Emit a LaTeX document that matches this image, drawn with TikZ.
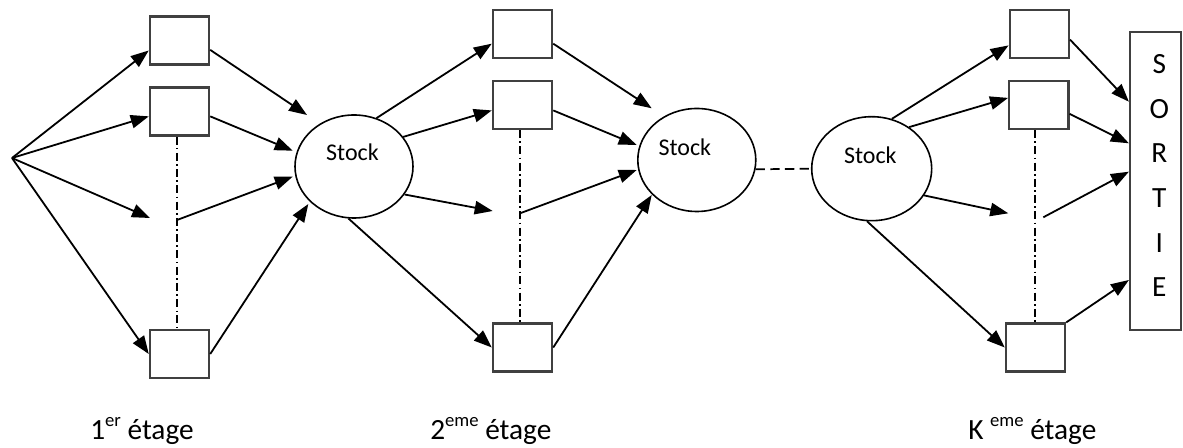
\documentclass[tikz,border=0pt]{standalone}
\usepackage{fontspec}
\setmainfont{Carlito}
\usetikzlibrary{arrows.meta,shapes.geometric}
% raised exponent for the stage numbers
\newcommand\etsup[1]{\raisebox{9.75pt}{\fontsize{14}{14}\selectfont #1}}
\begin{document}
\begin{tikzpicture}[x=0.75pt,y=-0.75pt,
  flow/.style={line width=1.35pt,-{Triangle[length=13.5pt,width=10pt]}},
  stagebox/.style={draw=black!75,line width=1.6pt,minimum width=44.5pt,minimum height=36pt,inner sep=0pt},
  stock/.style={ellipse,draw,line width=1.2pt,minimum width=88.5pt,minimum height=77.25pt,inner sep=0pt},
  stocktxt/.style={font=\fontsize{18}{18}\selectfont,inner sep=0pt},
  elide/.style={line width=1pt,dash pattern=on 6pt off 2.5pt on 1.2pt off 2.5pt},
  link/.style={line width=1.3pt,dash pattern=on 7pt off 4pt},
  etage/.style={anchor=base west,font=\fontsize{22}{22}\selectfont,inner sep=0pt}]

\useasboundingbox (0,0) rectangle (1183,448);

% ---------- stage 1 ----------
\coordinate (src) at (12,158);
\node[stagebox] (a1) at (179.5,40.5) {};
\node[stagebox] (a2) at (179.5,111.5) {};
\node[stagebox] (a3) at (179.5,354) {};
\coordinate (a0in) at (150,218);
\coordinate (a0out) at (177,220);
\draw[elide] (a2.south -| a0out) -- (a3.north -| a0out);

\node[stock] (s1) at (354,166.5) {};
\node[stocktxt] (t1) at ([shift={(-1.5,-14)}]s1.center) {Stock};

\draw[flow] (src) -- (a1.198);
\draw[flow] (src) -- (a2.189);
\draw[flow] (src) -- (a0in);
\draw[flow] (src) -- (a3.west);

\draw[flow] (a1.-17) -- ([shift={(-47,-51.5)}]s1.center);
\draw[flow] (a2.-9) -- ([shift={(-61.3,-15.8)}]s1.center);
\draw[flow] (a0out) -- ([shift={(-61.3,10.2)}]s1.center);
\draw[flow] (a3.east) -- ([shift={(-45.7,37.5)}]s1.center);

% ---------- stage 2 ----------
\node[stagebox] (b1) at (522.5,33.7) {};
\node[stagebox] (b2) at (522.5,105) {};
\node[stagebox] (b3) at (522.5,347.5) {};
\coordinate (b0in) at (492.7,211);
\coordinate (b0out) at (520,213.3);
\draw[elide] (b2.south -| b0out) -- (b3.north -| b0out);

\node[stock] (s2) at (696.8,160) {};
\node[stocktxt] (t2) at ([shift={(-12,-13)}]s2.center) {Stock};

\draw[flow] (s1.65) -- (b1.198);
\draw[flow] (s1.31) -- (b2.190);
\draw[flow] (s1.-29) -- (b0in);
\draw[flow] (s1.-96) -- (b3.west);

\draw[flow] (b1.-18) -- ([shift={(-45.1,-51.7)}]s2.center);
\draw[flow] (b2.-10) -- ([shift={(-60.1,-15)}]s2.center);
\draw[flow] (b0out) -- ([shift={(-60.1,10)}]s2.center);
\draw[flow] (b3.east) -- ([shift={(-45.1,35)}]s2.center);

% ---------- intermediate stages ----------
\node[stock,minimum width=90pt,minimum height=78pt] (s3) at (871.7,168.7) {};
\node[stocktxt] (t3) at ([shift={(-1.4,-13.7)}]s3.center) {Stock};
\draw[link] (s2.-9) -- (s3.west);

% ---------- stage K ----------
\node[stagebox] (k1) at (1039.3,34.2) {};
\node[stagebox] (k2) at (1038.8,105) {};
\node[stagebox] (k3) at (1035.5,347.5) {};
\coordinate (k0in) at (1008.3,213.3);
\coordinate (k0out) at (1043.3,217.3);
\draw[elide] (k2.south -| 1035,0) -- (k3.north -| 1035,0);

\node[draw=black!75,line width=1.6pt,minimum width=38pt,minimum height=223.3pt,inner sep=0pt] (out) at (1155.3,181.2) {};
\node[align=center,inner sep=0pt,font=\fontsize{22}{33.4}\selectfont] (outtxt) at ([shift={(4,-5.5)}]out.center) {S\\O\\R\\T\\I\\E};

\draw[flow] (s3.68) -- (k1.200);
\draw[flow] (s3.48) -- (k2.167);
\draw[flow] (s3.-27) -- (k0in);
\draw[flow] (s3.-95) -- (k3.west);

\draw[flow] (k1.-10) -- ([shift={(0,-79.5)}]out.west);
\draw[flow] (k2.-16) -- ([shift={(0,-37.9)}]out.west);
\draw[flow] (k0out) -- ([shift={(0,-9.5)}]out.west);
\draw[flow] (k3.north east) -- ([shift={(0,98.8)}]out.west);

% ---------- stage labels ----------
\node[etage] (l1) at (90,440) {1\etsup{er} étage};
\node[etage] (l2) at (430,440) {2\etsup{eme} étage};
\node[etage] (lk) at (968,440) {K \etsup{eme} étage};
\end{tikzpicture}
\end{document}
